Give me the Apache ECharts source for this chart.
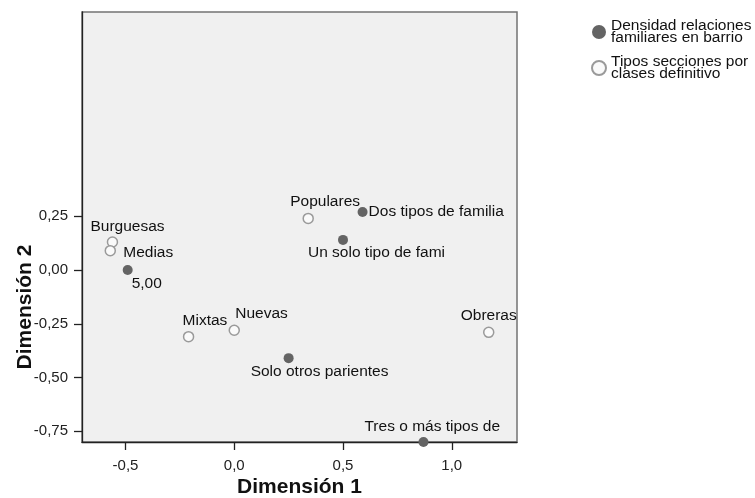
<!DOCTYPE html>
<html>
<head>
<meta charset="utf-8">
<script src="https://cdn.jsdelivr.net/npm/echarts@6/dist/echarts.min.js"></script>
<style>
  html, body { margin: 0; padding: 0; background: #fff; }
  #chart { width: 755px; height: 498px; }
</style>
</head>
<body>
<div id="chart"></div>
<script>
// Densidad relaciones familiares en barrio (puntos rellenos)
const densNames = ['5,00', 'Dos tipos de familia', 'Un solo tipo de fami', 'Solo otros parientes', 'Tres o más tipos de'];
const densDim1 = [-0.49, 0.59, 0.50, 0.25, 0.87];
const densDim2 = [0.00, 0.27, 0.14, -0.41, -0.80];

// Tipos secciones por clases definitivo (círculos abiertos)
const tiposNames = ['Burguesas', 'Medias', 'Populares', 'Mixtas', 'Nuevas', 'Obreras'];
const tiposDim1 = [-0.56, -0.57, 0.34, -0.21, 0.00, 1.17];
const tiposDim2 = [0.13, 0.09, 0.24, -0.31, -0.28, -0.29];

// marcas de los ejes
const xTicks = [-0.5, 0.0, 0.5, 1.0];
const yTicks = [0.25, 0.0, -0.25, -0.5, -0.75];

const seriesNames = ['Densidad relaciones familiares en barrio', 'Tipos secciones por clases definitivo'];

// posición de cada etiqueta respecto al punto: [align, dx, dy]
const densLabelPos = [
  ['left', 4, 14],
  ['left', 6, 0],
  ['left', -35, 13],
  ['left', -38, 14],
  ['left', -59, -15]
];
const tiposLabelPos = [
  ['left', -22, -15],
  ['left', 13, 2],
  ['left', -18, -17],
  ['left', -6, -16],
  ['left', 1, -16],
  ['left', -28, -17]
];

function buildData(names, xs, ys, pos) {
  return names.map((n, i) => ({
    name: n,
    value: [xs[i], ys[i]],
    label: {
      show: true,
      position: 'inside',
      align: pos[i][0],
      verticalAlign: 'middle',
      offset: [pos[i][1], pos[i][2]],
      formatter: '{b}'
    }
  }));
}

const chart = echarts.init(document.getElementById('chart'));
const font = 'Liberation Sans';

const option = {
  animation: false,
  textStyle: { fontFamily: font },
  grid: {
    left: 82,
    right: 238,
    top: 12,
    bottom: 56,
    show: true,
    backgroundColor: '#f0f0f0',
    borderColor: '#737373',
    borderWidth: 1.5,
    outerBoundsMode: 'none'
  },
  legend: {
    orient: 'vertical',
    left: 591,
    top: 18,
    padding: 0,
    itemWidth: 14,
    itemHeight: 14,
    itemGap: 8,
    icon: 'circle',
    data: seriesNames,
    formatter: (name) => name === seriesNames[0]
      ? 'Densidad relaciones\nfamiliares en barrio'
      : 'Tipos secciones por\nclases definitivo',
    textStyle: { fontFamily: font, fontSize: 15.5, lineHeight: 12, color: '#111' }
  },
  xAxis: {
    type: 'value',
    min: -0.7,
    max: 1.3,
    name: 'Dimensión 1',
    nameLocation: 'middle',
    nameGap: 35,
    nameMoveOverlap: false,
    nameTextStyle: { fontFamily: font, fontSize: 21, fontWeight: 'bold', color: '#111' },
    splitLine: { show: false },
    axisLine: { show: true, onZero: false, lineStyle: { color: '#222', width: 1.3 } },
    axisTick: { show: true, length: 8, customValues: xTicks, lineStyle: { color: '#222', width: 1.3 } },
    axisLabel: {
      customValues: xTicks,
      margin: 16,
      fontSize: 15,
      color: '#222',
      formatter: (v) => v.toFixed(1).replace('.', ',')
    }
  },
  yAxis: {
    type: 'value',
    min: -0.8,
    max: 1.2,
    name: 'Dimensión 2',
    nameLocation: 'middle',
    nameRotate: 90,
    nameGap: 46,
    nameMoveOverlap: false,
    nameTextStyle: {
      fontFamily: font, fontSize: 21, fontWeight: 'bold', color: '#111',
      padding: [0, 160, 0, 0]
    },
    splitLine: { show: false },
    axisLine: { show: true, onZero: false, lineStyle: { color: '#222', width: 1.3 } },
    axisTick: { show: true, length: 8, customValues: yTicks, lineStyle: { color: '#222', width: 1.3 } },
    axisLabel: {
      customValues: yTicks,
      margin: 14,
      fontSize: 15,
      color: '#222',
      formatter: (v) => v.toFixed(2).replace('.', ',')
    }
  },
  series: [
    {
      name: seriesNames[0],
      type: 'scatter',
      symbol: 'circle',
      symbolSize: 10,
      itemStyle: { color: '#646464', opacity: 1 },
      label: { fontFamily: font, fontSize: 15.5, color: '#111' },
      data: buildData(densNames, densDim1, densDim2, densLabelPos)
    },
    {
      name: seriesNames[1],
      type: 'scatter',
      symbol: 'circle',
      symbolSize: 10,
      itemStyle: { color: '#fafafa', borderColor: '#9a9a9a', borderWidth: 1.5, opacity: 1 },
      label: { fontFamily: font, fontSize: 15.5, color: '#111' },
      data: buildData(tiposNames, tiposDim1, tiposDim2, tiposLabelPos)
    }
  ]
};

chart.setOption(option);
</script>
</body>
</html>
